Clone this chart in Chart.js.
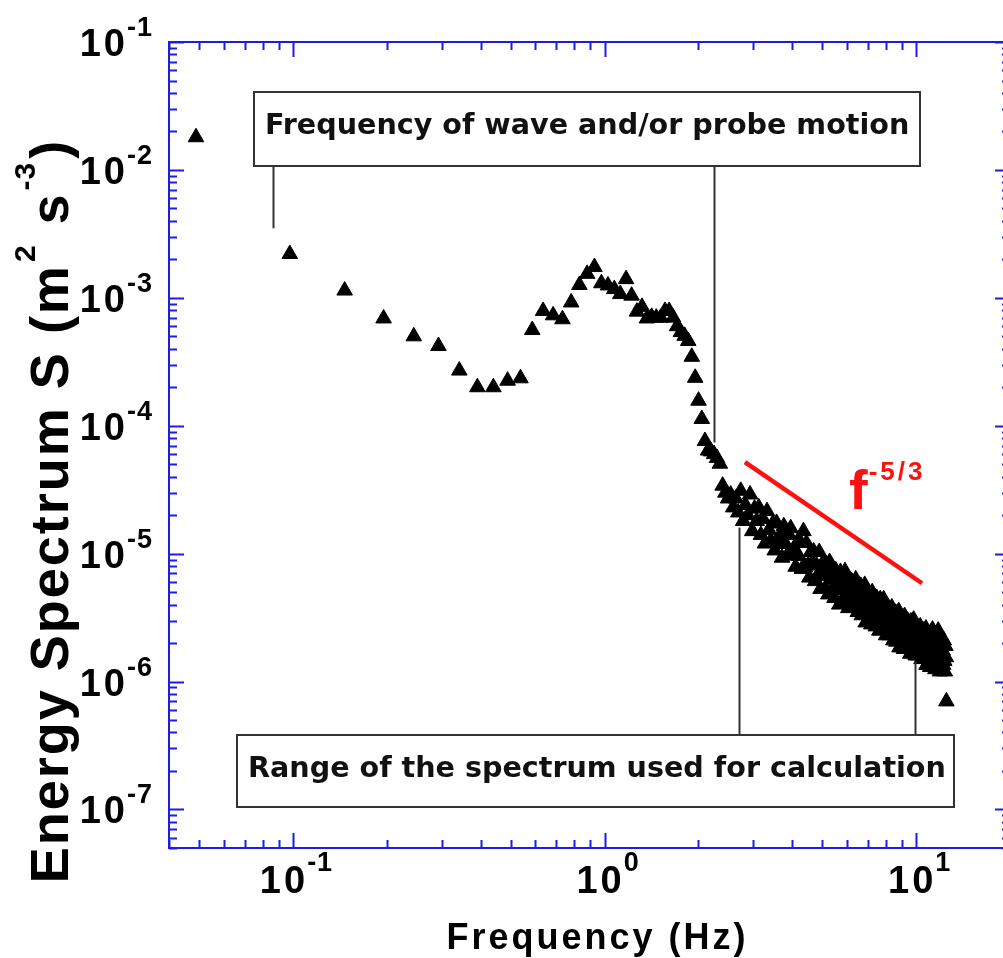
<!DOCTYPE html>
<html>
<head>
<meta charset="utf-8">
<script src="https://cdn.jsdelivr.net/npm/chart.js@4/dist/chart.umd.min.js"></script>
<style>
  html, body { margin: 0; padding: 0; background: #fff; overflow: hidden; }
  #wrap { width: 1003px; height: 958px; overflow: hidden; position: relative; }
  canvas { display: block; }
</style>
</head>
<body>
<div id="wrap"><canvas id="spectrum" width="1020" height="958"></canvas></div>
<script>
// FFT bin width of the spectrum (Hz); bin k sits at k * binWidth
const binWidth = 0.048828125;

// Energy spectrum S (m^2 s^-3), bins 1..48 (wave / probe-motion part)
const lowBand = [
  1.8e-2, 2.2e-3, 1.14e-3, 6.9e-4, 5.0e-4, 4.2e-4, 2.7e-4, 2.0e-4, 2.0e-4, 2.25e-4,
  2.35e-4, 5.6e-4, 7.9e-4, 7.3e-4, 6.8e-4, 9.2e-4, 1.26e-3, 1.54e-3, 1.74e-3, 1.3e-3,
  1.25e-3, 1.17e-3, 1.07e-3, 1.4e-3, 1.04e-3, 7.8e-4, 8.5e-4, 6.9e-4, 7.1e-4, 7.0e-4,
  7.0e-4, 7.9e-4, 7.9e-4, 7.0e-4, 6.0e-4, 5.4e-4, 5.05e-4, 4.6e-4, 3.46e-4, 2.37e-4,
  1.57e-4, 1.13e-4, 7.6e-5, 6.4e-5, 6.3e-5, 6.0e-5, 5.6e-5, 5.05e-5
];

// Energy spectrum S (m^2 s^-3), bins 49..256 (inertial subrange part)
const highBand = [
  3.4e-5, 3.0e-5, 2.7e-5, 2.9e-5, 2.3e-5, 2.7e-5, 2.1e-5,
  3.1e-5, 1.8e-5, 2.4e-5, 2.0e-5, 2.9e-5, 1.5e-5, 2.25e-5, 1.8e-5, 2.3e-5, 1.4e-5,
  1.87e-5, 1.2e-5, 2.15e-5, 1.53e-5, 1.26e-5, 1.72e-5, 1.06e-5, 1.74e-5, 1.22e-5, 1.4e-5,
  9.3e-6, 1.64e-5, 1.19e-5, 9.7e-6, 1.4e-5, 1.58e-5, 9.7e-6, 1.09e-5, 7.9e-6, 1.22e-5,
  9.6e-6, 1.23e-5, 7.6e-6, 1.5e-5, 7.8e-6, 1.21e-5, 8.1e-6, 6.5e-6, 1.03e-5, 8.5e-6,
  1.04e-5, 6.1e-6, 8.1e-6, 6.8e-6, 1.03e-5, 5.3e-6, 8.2e-6, 6.7e-6, 8.6e-6, 5.4e-6,
  7.3e-6, 4.8e-6, 8.6e-6, 6.3e-6, 5.2e-6, 7.3e-6, 4.5e-6, 7.4e-6, 5.3e-6, 6.1e-6,
  4.0e-6, 7.2e-6, 5.3e-6, 4.3e-6, 6.4e-6, 7.3e-6, 4.5e-6, 5.2e-6, 3.75e-6, 5.8e-6,
  4.7e-6, 6.1e-6, 3.8e-6, 5.3e-6, 4.0e-6, 6.3e-6, 4.2e-6, 3.5e-6, 5.5e-6, 4.6e-6,
  5.6e-6, 3.3e-6, 4.4e-6, 3.8e-6, 5.7e-6, 2.9e-6, 4.6e-6, 3.8e-6, 4.9e-6, 3.1e-6,
  4.2e-6, 2.8e-6, 5.0e-6, 3.7e-6, 3.1e-6, 4.3e-6, 2.7e-6, 4.5e-6, 3.2e-6, 3.7e-6,
  2.5e-6, 4.4e-6, 3.2e-6, 2.7e-6, 3.9e-6, 4.4e-6, 2.75e-6, 3.1e-6, 2.3e-6, 3.5e-6,
  2.85e-6, 3.7e-6, 2.3e-6, 3.2e-6, 2.4e-6, 3.8e-6, 2.55e-6, 2.1e-6, 3.35e-6, 2.8e-6,
  3.45e-6, 2.05e-6, 2.75e-6, 2.35e-6, 3.55e-6, 1.85e-6, 2.9e-6, 2.4e-6, 3.1e-6, 1.95e-6,
  2.7e-6, 1.8e-6, 3.25e-6, 2.4e-6, 2.0e-6, 2.8e-6, 1.8e-6, 2.95e-6, 2.1e-6, 2.45e-6,
  1.65e-6, 2.95e-6, 2.2e-6, 1.8e-6, 2.65e-6, 3.05e-6, 1.9e-6, 2.15e-6, 1.6e-6, 2.5e-6,
  2.0e-6, 2.6e-6, 1.6e-6, 2.3e-6, 1.75e-6, 2.7e-6, 1.85e-6, 1.5e-6, 2.45e-6, 2.0e-6,
  2.5e-6, 1.5e-6, 2.0e-6, 1.7e-6, 2.6e-6, 1.35e-6, 2.15e-6, 1.75e-6, 2.3e-6, 1.45e-6,
  2.0e-6, 1.3e-6, 2.4e-6, 1.75e-6, 1.5e-6, 2.55e-6, 1.3e-6, 2.2e-6, 1.6e-6, 1.85e-6,
  1.25e-6, 2.25e-6, 1.65e-6, 1.35e-6, 2.0e-6, 2.5e-6, 1.45e-6, 1.65e-6, 1.2e-6, 1.9e-6,
  1.55e-6, 2.2e-6, 1.25e-6, 1.75e-6, 1.35e-6, 2.1e-6, 1.45e-6, 1.2e-6, 1.9e-6, 1.55e-6,
  7.0e-7
];

// Axis ranges and decade labels (powers of ten)
const xRange = [0.04, 20];
const yRange = [5e-8, 0.1];
const xTickExponents = [-1, 0, 1];
const yTickExponents = [-1, -2, -3, -4, -5, -6, -7];

// Kolmogorov reference slope: starts at (f, S), runs to fEnd with S ~ f^exponent
const slopeStart = { f: 2.82, s: 5.2e-5 };
const slopeEndF = 10.44;
const slopeExponent = -5 / 3;

// Frequencies marked by the callout leader lines, with the S level each leader reaches
const motionMarks = [ { f: 0.0862, s: 3.5e-3 }, { f: 2.243, s: 7.4e-5 } ];
const rangeMarks  = [ { f: 2.70, s: 1.6e-5 }, { f: 9.94, s: 1.43e-6 } ];

const spectrum = lowBand.concat(highBand);
const spectrumPoints = spectrum.map((s, i) => ({ x: (i + 1) * binWidth, y: s }));
const slopePoints = [
  { x: slopeStart.f, y: slopeStart.s },
  { x: slopeEndF, y: slopeStart.s * Math.pow(slopeEndF / slopeStart.f, slopeExponent) }
];

const AXIS_BLUE = '#1c1ce6';
const TITLE_FONT = '"Liberation Sans", Arial, Helvetica, sans-serif';
const BOX_FONT = '"DejaVu Sans", Verdana, sans-serif';

// draw text one glyph at a time with extra tracking; returns advance width
function spacedWidth(ctx, text, spacing) {
  let w = 0;
  for (const ch of text) w += ctx.measureText(ch).width + spacing;
  return w - spacing;
}
function drawSpaced(ctx, text, x, y, spacing) {
  for (const ch of text) {
    ctx.fillText(ch, x, y);
    x += ctx.measureText(ch).width + spacing;
  }
  return x;
}
// runs: [{ text, font, dy, spacing, gap }] drawn on a common baseline
function drawRuns(ctx, runs, x, y, align) {
  let total = 0;
  for (const r of runs) {
    ctx.font = r.font;
    r._w = spacedWidth(ctx, r.text, r.spacing || 0) + (r.gap || 0);
    total += r._w;
  }
  let cx = align === 'center' ? x - total / 2 : align === 'right' ? x - total : x;
  ctx.textAlign = 'left';
  for (const r of runs) {
    ctx.font = r.font;
    drawSpaced(ctx, r.text, cx + (r.gap || 0), y + (r.dy || 0), r.spacing || 0);
    cx += r._w;
  }
}
function powerLabel(exp, big, small, lift) {
  return [
    { text: '10', font: 'bold ' + big + 'px ' + TITLE_FONT, spacing: 3 },
    { text: String(exp), font: 'bold ' + small + 'px ' + TITLE_FONT, spacing: 1, dy: -lift, gap: 2 }
  ];
}
function decadeTicks(min, max) {
  const out = [];
  for (let e = Math.floor(Math.log10(min)); e <= Math.ceil(Math.log10(max)); e++) {
    for (let d = 1; d <= 9; d++) {
      const v = d * Math.pow(10, e);
      if (v >= min * 0.999 && v <= max * 1.001) out.push({ v, major: d === 1 });
    }
  }
  return out;
}

const framePlugin = {
  id: 'frame',
  afterDatasetsDraw(chart) {
    const { ctx, chartArea: a, scales: { x, y } } = chart;
    ctx.save();

    // callout leader lines
    ctx.strokeStyle = '#333';
    ctx.lineWidth = 2;
    const box1 = { l: 254, t: 92, r: 920, b: 166 };
    const box2 = { l: 237, t: 735, r: 954, b: 807 };
    for (const m of motionMarks) {
      const px = Math.round(x.getPixelForValue(m.f)) + 0.5;
      ctx.beginPath(); ctx.moveTo(px, box1.b); ctx.lineTo(px, y.getPixelForValue(m.s)); ctx.stroke();
    }
    for (const m of rangeMarks) {
      const px = Math.round(x.getPixelForValue(m.f)) + 0.5;
      ctx.beginPath(); ctx.moveTo(px, box2.t); ctx.lineTo(px, y.getPixelForValue(m.s)); ctx.stroke();
    }

    // callout boxes
    ctx.fillStyle = '#fff';
    for (const b of [box1, box2]) {
      ctx.fillRect(b.l, b.t, b.r - b.l, b.b - b.t);
      ctx.strokeRect(b.l, b.t, b.r - b.l, b.b - b.t);
    }
    ctx.fillStyle = '#111';
    ctx.font = 'bold 28.6px ' + BOX_FONT;
    ctx.textAlign = 'left';
    ctx.textBaseline = 'alphabetic';
    ctx.fillText('Frequency of wave and/or probe motion', 265, box1.t + 42);
    ctx.fillText('Range of the spectrum used for calculation', 248, box2.t + 42);

    // f^-5/3 label
    ctx.fillStyle = '#ff1010';
    drawRuns(ctx, [
      { text: 'f', font: 'bold 56px ' + TITLE_FONT },
      { text: '-5/3', font: 'bold 26px ' + TITLE_FONT, spacing: 3, dy: -29, gap: 1 }
    ], 849, 509, 'left');

    // frame
    ctx.strokeStyle = AXIS_BLUE;
    ctx.lineWidth = 2;
    ctx.strokeRect(a.left, a.top, a.right - a.left, a.bottom - a.top);

    // inward ticks on all four sides
    ctx.beginPath();
    for (const t of decadeTicks(xRange[0], xRange[1])) {
      const px = Math.round(x.getPixelForValue(t.v)) + 0.5;
      const len = t.major ? 15 : 8;
      ctx.moveTo(px, a.bottom); ctx.lineTo(px, a.bottom - len);
      ctx.moveTo(px, a.top); ctx.lineTo(px, a.top + len);
    }
    for (const t of decadeTicks(yRange[0], yRange[1])) {
      const py = Math.round(y.getPixelForValue(t.v)) + 0.5;
      const len = t.major ? 15 : 8;
      ctx.moveTo(a.left, py); ctx.lineTo(a.left + len, py);
      ctx.moveTo(a.right, py); ctx.lineTo(a.right - len, py);
    }
    ctx.stroke();

    // decade labels
    ctx.fillStyle = '#000';
    for (const e of xTickExponents) {
      const px = x.getPixelForValue(Math.pow(10, e));
      drawRuns(ctx, powerLabel(e, 38, 27, 22), px + 3, a.bottom + 45, 'center');
    }
    for (const e of yTickExponents) {
      const py = y.getPixelForValue(Math.pow(10, e));
      drawRuns(ctx, powerLabel(e, 38, 27, 20), 152, py + 14, 'right');
    }

    // axis titles
    drawRuns(ctx, [
      { text: 'Frequency (Hz)', font: 'bold 36px ' + TITLE_FONT, spacing: 3 }
    ], 596, 949, 'center');

    ctx.save();
    ctx.translate(68, 512);
    ctx.rotate(-Math.PI / 2);
    drawRuns(ctx, [
      { text: 'Energy Spectrum S (m', font: 'bold 54px ' + TITLE_FONT, spacing: 2 },
      { text: '2', font: 'bold 30px ' + TITLE_FONT, dy: -33, gap: 4 },
      { text: ' s', font: 'bold 54px ' + TITLE_FONT, spacing: 2, gap: 4 },
      { text: '-3', font: 'bold 30px ' + TITLE_FONT, spacing: 1, dy: -33, gap: 4 },
      { text: ')', font: 'bold 54px ' + TITLE_FONT, gap: 4 }
    ], 0, 0, 'center');
    ctx.restore();

    ctx.restore();
  }
};

new Chart(document.getElementById('spectrum'), {
  type: 'scatter',
  data: {
    datasets: [
      {
        label: 'S(f)',
        data: spectrumPoints,
        pointStyle: 'triangle',
        pointRadius: 9,
        backgroundColor: '#000',
        borderColor: '#000',
        borderWidth: 1,
        showLine: false
      },
      {
        label: 'f^-5/3',
        type: 'line',
        data: slopePoints,
        borderColor: '#ff1010',
        borderWidth: 4.5,
        pointRadius: 0,
        fill: false
      }
    ]
  },
  options: {
    responsive: false,
    animation: false,
    devicePixelRatio: 1,
    layout: { padding: { left: 169, top: 42, right: 7, bottom: 110 } },
    scales: {
      x: { type: 'logarithmic', min: xRange[0], max: xRange[1], display: false },
      y: { type: 'logarithmic', min: yRange[0], max: yRange[1], display: false }
    },
    plugins: { legend: { display: false }, tooltip: { enabled: false } },
    events: []
  },
  plugins: [framePlugin]
});
</script>
</body>
</html>
